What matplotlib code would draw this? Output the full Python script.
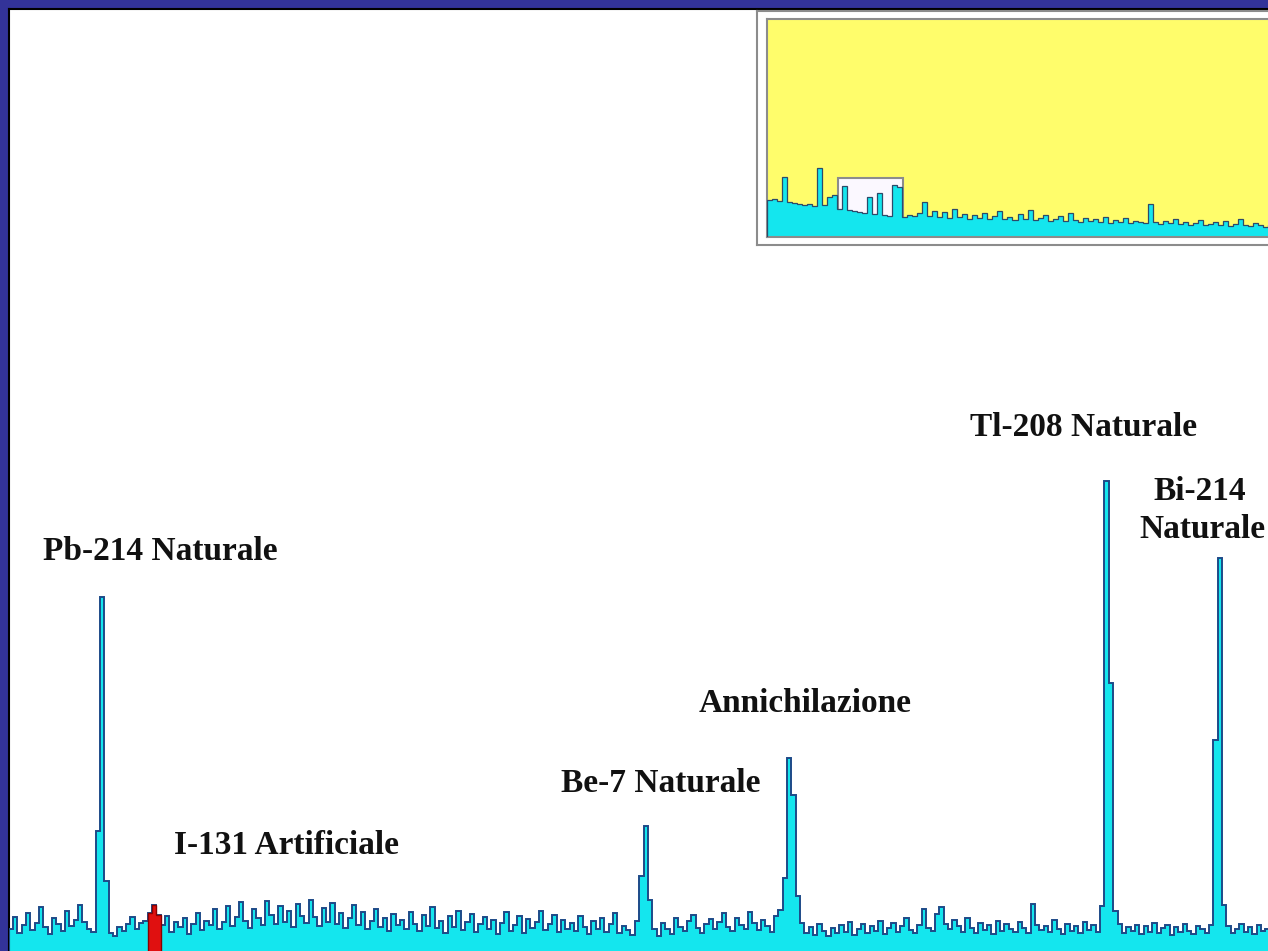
import numpy as np
import matplotlib
matplotlib.use("Agg")
import matplotlib.pyplot as plt
from matplotlib.patches import Rectangle

# main spectrum: 1 keV channels starting at 331 keV (counts in arbitrary units)
start_ch = 331
noise = [22, 34, 18, 26, 38, 21, 28, 44, 24, 17,
         33, 27, 20, 40, 25, 31, 46, 29, 22, 19,
         30, 28, 22, 18, 15, 24, 20, 27, 34, 22,
         28, 30, 41, 46, 38, 26, 35, 19, 29, 24,
         33, 17, 27, 38, 21, 30, 26, 42, 22, 29,
         45, 25, 34, 49, 30, 23, 42, 33, 26, 50,
         36, 27, 45, 29, 40, 24, 47, 35, 28, 51,
         34, 25, 43, 29, 48, 27, 38, 23, 33, 46,
         26, 39, 22, 30, 42, 24, 33, 20, 37, 26,
         31, 22, 39, 27, 20, 36, 25, 44, 23, 30,
         18, 35, 24, 40, 21, 29, 37, 19, 27, 34,
         22, 31, 17, 28, 39, 20, 26, 35, 18, 32,
         23, 29, 40, 21, 27, 36, 19, 31, 22, 28,
         20, 35, 24, 17, 30, 22, 33, 19, 27, 38,
         18, 25, 21, 16, 30, 24, 26, 22, 22, 15,
         28, 22, 17, 33, 24, 20, 30, 36, 23, 18,
         27, 32, 22, 29, 38, 24, 20, 33, 26, 22,
         39, 28, 21, 31, 25, 19, 35, 41, 30, 24,
         20, 25, 28, 18, 24, 16, 27, 20, 15, 23,
         18, 26, 19, 29, 16, 22, 27, 18, 25, 20,
         30, 17, 23, 28, 19, 25, 33, 21, 18, 26,
         42, 23, 20, 37, 44, 27, 22, 31, 25, 19,
         33, 23, 18, 28, 21, 26, 17, 30, 20, 27,
         22, 19, 29, 23, 18, 47, 26, 21, 25, 19,
         31, 22, 17, 27, 20, 25, 18, 29, 21, 26,
         19, 28, 23, 17, 22, 27, 18, 24, 20, 26,
         17, 25, 19, 28, 18, 23, 26, 16, 24, 19,
         27, 20, 17, 25, 22, 18, 26, 19, 24, 20,
         25, 18, 22, 27, 19, 24, 17, 26, 20, 22]

peak_ch = [351, 352, 353, 363, 364, 365, 476, 477, 478,
           509, 510, 511, 512, 582, 583, 584, 585, 608, 609, 610]
peak_val = [120, 354, 70, 38, 46, 36, 75, 125, 51,
            73, 193, 156, 55, 45, 470, 268, 40, 211, 393, 46]

i131_lo, i131_hi = 363, 365  # channels shown in red

labels = ["Pb-214 Naturale", "I-131 Artificiale", "Be-7 Naturale",
          "Annichilazione", "Tl-208 Naturale", "Bi-214", "Naturale"]

# inset: overview spectrum
inset_counts = [37, 38, 36, 60, 35, 34, 33, 32, 33, 31,
                69, 32, 40, 42, 28, 51, 27, 26, 25, 24,
                40, 23, 44, 22, 21, 52, 50, 20, 22, 21,
                24, 35, 21, 26, 20, 25, 19, 28, 20, 23,
                18, 22, 19, 24, 18, 21, 26, 18, 20, 17,
                23, 18, 27, 17, 19, 22, 16, 18, 21, 16,
                24, 17, 15, 19, 16, 18, 15, 20, 14, 17,
                15, 19, 14, 16, 15, 14, 33, 15, 13, 16,
                14, 18, 13, 15, 12, 14, 17, 12, 13, 15,
                12, 16, 11, 13, 18, 12, 11, 14, 12, 10,
                12, 11]

counts = np.array(noise, dtype=float)
counts[np.array(peak_ch) - start_ch] = peak_val
channels = start_ch + np.arange(len(counts))
edges = np.append(channels - 0.5, channels[-1] + 0.5)

W, H = 1268, 951
fig = plt.figure(figsize=(12.68, 9.51), dpi=100, facecolor="#333399")

cyan = "#14e6ee"
dark = "#1d4a88"

ax = fig.add_axes([9 / W, 0, 1 - 9 / W, 942 / H])
ax.set_facecolor("white")
ax.stairs(counts, edges, fill=True, color=cyan, zorder=2)
ax.stairs(counts, edges, color=dark, lw=1.4, zorder=3)
red = (channels >= i131_lo) & (channels <= i131_hi)
red_edges = np.append(channels[red] - 0.5, channels[red][-1] + 0.5)
ax.stairs(counts[red], red_edges, fill=True, color="#e01010", zorder=4)
ax.stairs(counts[red], red_edges, color="#8a0000", lw=1.0, zorder=5)
ax.set_xlim(330.6, 620.1)
ax.set_ylim(0, 942)
ax.set_xticks([])
ax.set_yticks([])
for s in ["right", "bottom"]:
    ax.spines[s].set_visible(False)
for s in ["left", "top"]:
    ax.spines[s].set_color("black")
    ax.spines[s].set_linewidth(1.5)

font = dict(family="Liberation Serif", weight="bold", fontsize=24, color="#111111")
ax.text(365.3, 400, labels[0], ha="center", va="center", **font)
ax.text(394.5, 105, labels[1], ha="center", va="center", **font)
ax.text(480.5, 167, labels[2], ha="center", va="center", **font)
ax.text(513.6, 247, labels[3], ha="center", va="center", **font)
ax.text(577.7, 523, labels[4], ha="center", va="center", **font)
ax.text(604.4, 459, labels[5], ha="center", va="center", **font)
ax.text(619.6, 421, labels[6], ha="right", va="center", **font)

# inset frame
frame = fig.add_axes([757 / W, (H - 245) / H, 530 / W, 234 / H])
frame.set_facecolor("white")
frame.set_xticks([])
frame.set_yticks([])
for s in frame.spines.values():
    s.set_color("#8c8c8c")
    s.set_linewidth(1.5)

ins = fig.add_axes([767 / W, (H - 237) / H, 520 / W, 218 / H])
ins.set_facecolor("#fffd6b")
ins.add_patch(Rectangle((14.2, 0), 12.9, 59, facecolor="#fbf8ff",
                        edgecolor="#8c8c8c", lw=1.5, zorder=1))
ins_edges = np.arange(len(inset_counts) + 1)
ins.stairs(inset_counts, ins_edges, fill=True, color=cyan, zorder=2)
ins.stairs(inset_counts, ins_edges, color="#2d4a6a", lw=0.9, zorder=3)
ins.set_xlim(0, 520 / 5.01)
ins.set_ylim(0, 218)
ins.set_xticks([])
ins.set_yticks([])
for s in ins.spines.values():
    s.set_color("#8c8c8c")
    s.set_linewidth(1.5)

fig.savefig("out.png", dpi=100, facecolor=fig.get_facecolor())
